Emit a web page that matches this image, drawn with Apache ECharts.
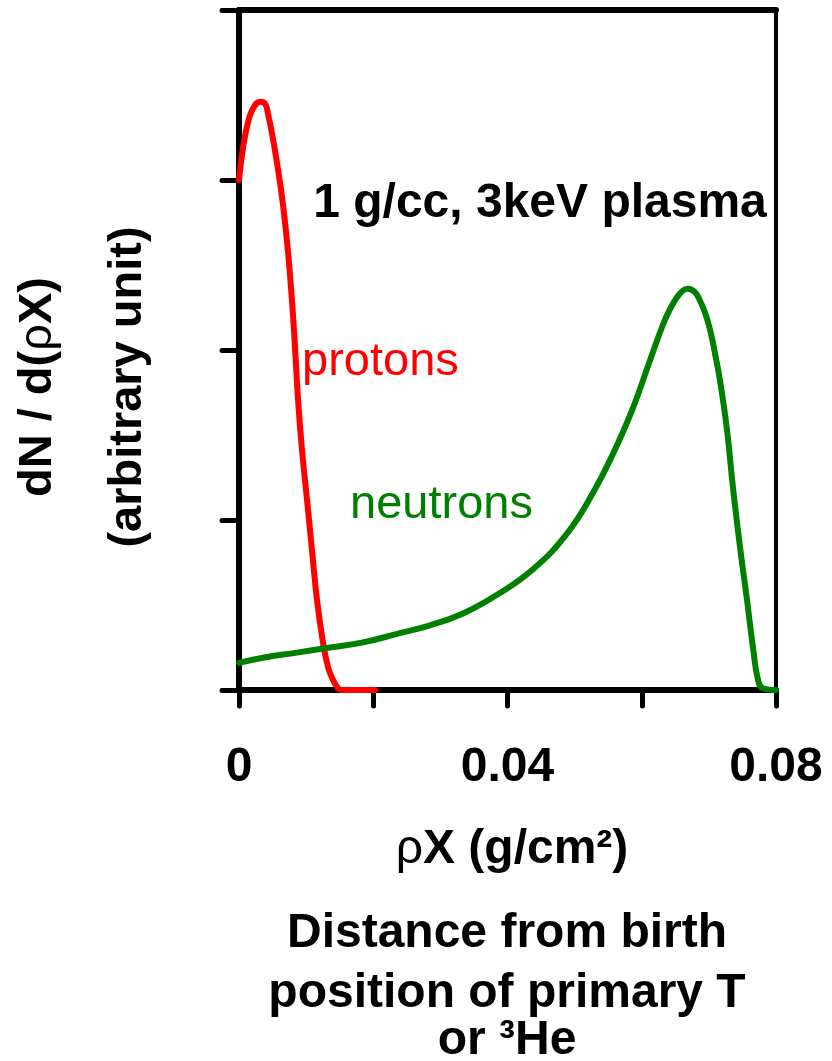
<!DOCTYPE html>
<html>
<head>
<meta charset="utf-8">
<script src="https://cdn.jsdelivr.net/npm/echarts@6/dist/echarts.min.js"></script>
<style>html,body{margin:0;padding:0;background:#fff}#c{width:832px;height:1061px}</style>
</head>
<body>
<div id="c"></div>
<script>
// ---- data ----
const protonX = [0, 0.0006, 0.00134, 0.00209, 0.00313, 0.00387, 0.00432, 0.00507, 0.00566, 0.00641, 0.00715, 0.0076, 0.00805, 0.00834, 0.00879, 0.00939, 0.01013, 0.01088, 0.01162, 0.01251, 0.01326, 0.0140, 0.01475, 0.0153, 0.0203];
const protonY = [3.0, 3.19, 3.34, 3.42, 3.46, 3.45, 3.39, 3.24, 3.10, 2.90, 2.64, 2.44, 2.20, 2.02, 1.71, 1.41, 1.12, 0.82, 0.53, 0.28, 0.135, 0.06, 0.01, 0, 0];
const neutronX = [0, 0.00358, 0.00864, 0.01356, 0.01847, 0.02354, 0.02845, 0.03337, 0.03844, 0.0438, 0.04886, 0.05274, 0.05572, 0.0587, 0.06123, 0.06317, 0.06421, 0.06525, 0.06615, 0.06689, 0.06793, 0.06868, 0.06942, 0.07017, 0.07091, 0.07166, 0.0727, 0.07359, 0.07464, 0.07568, 0.07657, 0.07732, 0.07806, 0.08];
const neutronY = [0.16, 0.19, 0.22, 0.25, 0.28, 0.33, 0.38, 0.45, 0.56, 0.71, 0.92, 1.16, 1.39, 1.66, 1.94, 2.15, 2.24, 2.31, 2.35, 2.36, 2.34, 2.29, 2.22, 2.12, 1.98, 1.82, 1.53, 1.19, 0.84, 0.53, 0.25, 0.06, 0.01, 0];
const xLabelValues = [0, 0.04, 0.08];
const xLabelTexts = ['0', '0.04', '0.08'];
const yAxisTitle = ['dN / d(', 'ρ', 'X)', '(arbitrary unit)'];
const xAxisTitle = ['ρ', 'X (g/cm²)'];
const bottomText = ['Distance from birth', 'position of primary T', 'or ³He'];
const annotation = '1 g/cc, 3keV plasma';
const seriesNames = ['protons', 'neutrons'];

const FONT = '"Liberation Sans", Arial, sans-serif';
const zip = (xs, ys) => xs.map((x, i) => [x, ys[i]]);

const chart = echarts.init(document.getElementById('c'));
const axisLineStyle = { color: '#000', width: 6, cap: 'round' };
const tickStyle = { color: '#000', width: 5, cap: 'round' };
chart.setOption({
  animation: false,
  grid: { left: 239, right: 56, top: 10, bottom: 371, containLabel: false },
  xAxis: [{
    type: 'value', position: 'bottom', min: 0, max: 0.08, interval: 0.02,
    axisLine: { onZero: false, lineStyle: axisLineStyle },
    axisTick: { length: 16, lineStyle: tickStyle },
    splitLine: { show: false },
    axisLabel: {
      margin: 54, color: '#000', fontSize: 48, fontWeight: 'bold', fontFamily: FONT,
      formatter: v => { const i = xLabelValues.findIndex(t => Math.abs(t - v) < 1e-9); return i >= 0 ? xLabelTexts[i] : ''; }
    }
  }, {
    type: 'value', position: 'top', min: 0, max: 0.08,
    axisLine: { onZero: false, lineStyle: axisLineStyle },
    axisTick: { show: false }, axisLabel: { show: false }, splitLine: { show: false }
  }],
  yAxis: [{
    type: 'value', position: 'left', min: 0, max: 4, interval: 1,
    axisLine: { onZero: false, lineStyle: axisLineStyle },
    axisTick: { length: 17, lineStyle: tickStyle },
    axisLabel: { show: false }, splitLine: { show: false }
  }, {
    type: 'value', position: 'right', min: 0, max: 4,
    axisLine: { onZero: false, lineStyle: { color: '#000', width: 4 } },
    axisTick: { show: false }, axisLabel: { show: false }, splitLine: { show: false }
  }],
  series: [{
    name: seriesNames[0], type: 'line', data: zip(protonX, protonY), showSymbol: false, smooth: 0.45, clip: false,
    lineStyle: { color: '#ff0000', width: 6, cap: 'round', join: 'round' }, z: 5
  }, {
    name: seriesNames[1], type: 'line', data: zip(neutronX, neutronY), showSymbol: false, smooth: 0.45, clip: false,
    lineStyle: { color: '#008000', width: 6, cap: 'round', join: 'round' }, z: 5
  }],
  graphic: [
    { type: 'text', x: 38, y: 387, rotation: Math.PI / 2, style: {
        text: '{b|' + yAxisTitle[0] + '}{r|' + yAxisTitle[1] + '}{b|' + yAxisTitle[2] + '}', textAlign: 'center', textVerticalAlign: 'middle',
        rich: { b: { font: 'bold 47px ' + FONT, fill: '#000' }, r: { font: '47px ' + FONT, fill: '#000' } } } },
    { type: 'text', x: 128, y: 387, rotation: Math.PI / 2, style: { text: yAxisTitle[3], font: 'bold 47px ' + FONT, fill: '#000', textAlign: 'center', textVerticalAlign: 'middle' } },
    { type: 'text', x: 540, y: 204, style: { text: annotation, font: 'bold 48px ' + FONT, fill: '#000', textAlign: 'center', textVerticalAlign: 'middle' } },
    { type: 'text', x: 302, y: 362, style: { text: seriesNames[0], font: '47px ' + FONT, fill: '#ff0000', textAlign: 'left', textVerticalAlign: 'middle' } },
    { type: 'text', x: 350, y: 505, style: { text: seriesNames[1], font: '47px ' + FONT, fill: '#008000', textAlign: 'left', textVerticalAlign: 'middle' } },
    { type: 'text', x: 512, y: 850, style: {
        text: '{r|' + xAxisTitle[0] + '}{b|' + xAxisTitle[1] + '}', textAlign: 'center', textVerticalAlign: 'middle',
        rich: { b: { font: 'bold 48px ' + FONT, fill: '#000' }, r: { font: '48px ' + FONT, fill: '#000' } } } },
    { type: 'text', x: 507, y: 934, style: { text: bottomText[0], font: 'bold 48px ' + FONT, fill: '#000', textAlign: 'center', textVerticalAlign: 'middle' } },
    { type: 'text', x: 507, y: 994, style: { text: bottomText[1], font: 'bold 48px ' + FONT, fill: '#000', textAlign: 'center', textVerticalAlign: 'middle' } },
    { type: 'text', x: 507, y: 1041, style: { text: bottomText[2], font: 'bold 48px ' + FONT, fill: '#000', textAlign: 'center', textVerticalAlign: 'middle' } }
  ]
});
</script>
</body>
</html>
